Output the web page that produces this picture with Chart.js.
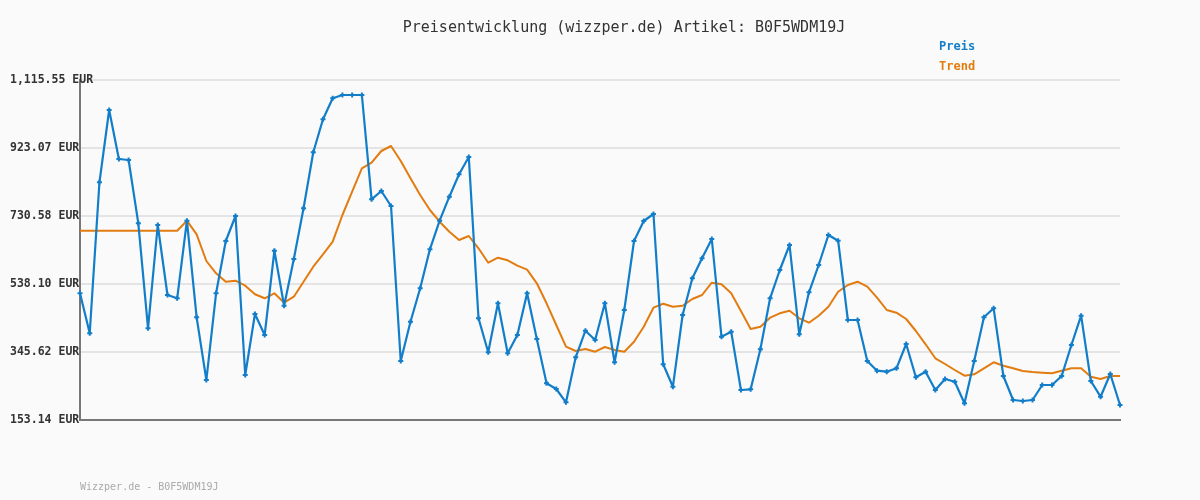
<!DOCTYPE html>
<html>
<head>
<meta charset="utf-8">
<script src="https://cdn.jsdelivr.net/npm/chart.js@4"></script>
<style>
  html, body { margin: 0; padding: 0; background: #fafafa; }
  #wrap { width: 1200px; height: 500px; }
</style>
</head>
<body>
<div id="wrap"><canvas id="priceChart" width="1200" height="500"></canvas></div>
<script>
const chartTitle = 'Preisentwicklung (wizzper.de) Artikel: B0F5WDM19J'
const footerText = 'Wizzper.de - B0F5WDM19J'
const priceColor = 'rgb(18, 126, 201)'
const trendColor = 'rgb(226, 124, 16)'

// Preis (EUR)
const prices = [
    511.78, 398.55, 825.98, 1030.63, 891.93, 889.10, 709.92, 412.71, 705.11, 506.97,
    497.63, 717.28, 443.85, 266.37, 511.78, 659.82, 730.58, 280.52, 453.19, 393.75,
    632.37, 476.68, 608.87, 752.38, 910.90, 1004.31, 1063.75, 1073.09, 1073.09, 1073.09,
    777.86, 801.35, 758.89, 320.15, 431.39, 525.94, 636.33, 717.28, 785.22, 848.62,
    897.59, 441.02, 344.78, 483.48, 341.95, 393.75, 511.78, 382.42, 257.03, 240.89,
    203.25, 330.62, 405.92, 379.59, 483.48, 316.47, 464.51, 659.82, 716.44, 736.25,
    310.81, 247.40, 450.36, 554.24, 610.85, 665.48, 388.94, 403.09, 238.06, 240.05,
    353.27, 497.63, 577.74, 648.50, 395.73, 514.61, 591.89, 676.81, 660.67, 436.21,
    436.21, 320.15, 292.69, 289.86, 299.49, 368.27, 274.01, 289.86, 238.06, 269.20,
    261.56, 200.42, 320.15, 443.85, 469.32, 277.69, 209.76, 206.93, 209.76, 252.22,
    252.22, 277.69, 365.44, 448.38, 263.54, 219.10, 283.35, 195.60
]

// Trend (EUR)
const trend = [
    688.98, 688.98, 688.98, 688.98, 688.98, 688.98, 688.98, 688.98, 688.98, 688.98,
    688.98, 717.28, 678.79, 603.21, 568.40, 544.62, 547.45, 533.30, 508.95, 497.63,
    511.78, 485.18, 502.16, 544.62, 587.08, 622.18, 657.84, 733.42, 799.37, 865.61,
    881.46, 914.58, 928.73, 886.27, 837.30, 790.03, 747.57, 714.45, 686.15, 662.65,
    673.98, 639.16, 598.40, 612.55, 605.19, 589.91, 578.59, 540.09, 483.48, 422.05,
    360.63, 348.46, 354.12, 346.48, 359.78, 351.29, 346.48, 374.78, 417.24, 471.02,
    482.34, 473.85, 476.68, 495.65, 506.97, 541.79, 537.26, 511.78, 461.68, 410.73,
    417.24, 442.72, 455.17, 462.53, 441.02, 428.56, 448.38, 473.85, 516.31, 535.28,
    544.62, 530.46, 499.33, 464.51, 456.87, 439.04, 405.07, 367.42, 327.79, 311.66,
    294.68, 278.54, 282.50, 299.49, 316.47, 306.85, 299.49, 291.85, 289.01, 287.03,
    285.34, 292.69, 299.49, 299.49, 275.71, 269.20, 277.69, 277.69
]

const yTicks = [153.14, 345.62, 538.10, 730.58, 923.07, 1115.55]
const labels = prices.map((_, i) => String(i + 1))

function formatEur(v) {
    return v.toLocaleString('en-US', { minimumFractionDigits: 2, maximumFractionDigits: 2 }) + ' EUR'
}

// title, legend and footer are drawn by hand like the original image
const textPlugin = {
    id: 'textPlugin',
    afterDraw(chart) {
        const ctx = chart.ctx
        ctx.save()
        ctx.textBaseline = 'middle'

        ctx.font = '15px "DejaVu Sans Mono"'
        ctx.fillStyle = '#333'
        ctx.textAlign = 'center'
        ctx.fillText(chartTitle, 624, 28)

        ctx.textAlign = 'left'
        ctx.font = 'bold 12px "DejaVu Sans Mono"'
        ctx.fillStyle = priceColor
        ctx.fillText('Preis', 939, 47)
        ctx.fillStyle = trendColor
        ctx.fillText('Trend', 939, 67)

        ctx.font = '10px "DejaVu Sans Mono"'
        ctx.fillStyle = '#aaa'
        ctx.fillText(footerText, 80, 487)
        ctx.restore()
    }
}

const data = {
    labels: labels,
    datasets: [{
        label: 'Preis',
        data: prices,
        borderColor: priceColor,
        backgroundColor: priceColor,
        borderWidth: 2.2,
        borderJoinStyle: 'round',
        pointStyle: 'cross',
        pointRadius: 2.5,
        pointBorderWidth: 2,
        pointBorderColor: priceColor,
        tension: 0,
        order: 1
    }, {
        label: 'Trend',
        data: trend,
        borderColor: trendColor,
        backgroundColor: trendColor,
        borderWidth: 2,
        borderJoinStyle: 'round',
        pointRadius: 0,
        tension: 0,
        order: 2
    }]
}

const config = {
    type: 'line',
    data: data,
    plugins: [textPlugin],
    options: {
        responsive: false,
        animation: false,
        layout: { padding: { top: 80, bottom: 80, left: 10, right: 80 } },
        plugins: {
            legend: { display: false },
            title: { display: false },
            tooltip: { enabled: false }
        },
        scales: {
            x: {
                offset: false,
                afterFit: axis => { axis.height = 0 },
                grid: { display: false },
                ticks: { display: false },
                border: { display: true, color: '#777', width: 2 }
            },
            y: {
                min: 153.14,
                max: 1115.55,
                afterBuildTicks: axis => { axis.ticks = yTicks.map(v => ({ value: v })) },
                afterFit: axis => { axis.width = 70 },
                grid: { color: '#e4e4e4', lineWidth: 2, drawTicks: false },
                border: { display: true, color: '#777', width: 2 },
                ticks: {
                    mirror: true,
                    crossAlign: 'near',
                    padding: -70,
                    color: '#333',
                    font: { family: 'DejaVu Sans Mono', size: 11.5, weight: 'bold' },
                    callback: v => formatEur(v)
                }
            }
        }
    }
}

const ch = new Chart(document.getElementById('priceChart'), config)
</script>
</body>
</html>
